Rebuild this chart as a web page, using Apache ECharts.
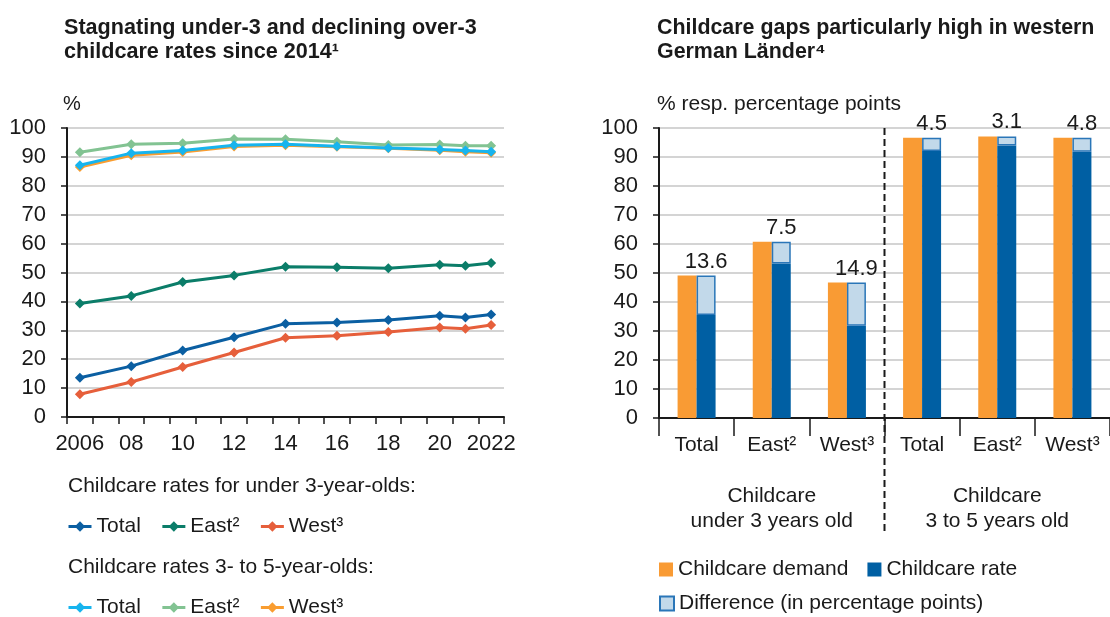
<!DOCTYPE html>
<html>
<head>
<meta charset="utf-8">
<script src="https://cdn.jsdelivr.net/npm/echarts@6/dist/echarts.min.js"></script>
<style>
  html, body { margin: 0; padding: 0; background: #ffffff; }
  #chart { width: 1110px; height: 617px; }
</style>
</head>
<body>
<div id="chart"></div>
<script>
// ---- Left panel: childcare rates over time (in %) ----
const years = ['2006','2007','2008','2009','2010','2011','2012','2013','2014',
               '2015','2016','2017','2018','2019','2020','2021','2022'];
const yearTickLabels = ['2006','','08','','10','','12','','14','','16','','18','','20','','2022'];
const obsYears = ['2006','2008','2010','2012','2014','2016','2018','2020','2021','2022'];

const under3Total = [13.6, 17.6, 23.0, 27.6, 32.3, 32.7, 33.6, 35.0, 34.4, 35.5];
const under3East  = [39.3, 41.9, 46.7, 49.0, 52.0, 51.8, 51.5, 52.7, 52.3, 53.3];
const under3West  = [ 7.9, 12.1, 17.3, 22.3, 27.4, 28.1, 29.4, 31.0, 30.5, 31.8];
const over3Total  = [87.1, 91.3, 92.2, 94.0, 94.4, 93.7, 93.1, 92.6, 92.2, 91.8];
const over3East   = [91.6, 94.4, 94.7, 96.2, 96.1, 95.2, 94.1, 94.3, 93.9, 93.9];
const over3West   = [86.5, 90.6, 91.7, 93.6, 94.0, 93.5, 93.0, 92.3, 91.8, 91.4];

// ---- Right panel: demand vs. rate, 2022 ----
const barCategories = ['Total','East²','West³','Total','East²','West³'];
const demand = [49.1, 60.8, 46.7, 96.6, 97.1, 96.6];
const rate   = [35.5, 53.3, 31.8, 92.1, 94.0, 91.8];
const gap    = [13.6,  7.5, 14.9,  4.5,  3.1,  4.8];
const groupLabels = ['Childcare\nunder 3 years old', 'Childcare\n3 to 5 years old'];

const FONT = '"Liberation Sans", Arial, sans-serif';
const INK = '#1a1a1a';
const GRIDLINE = '#c6c6c6';

const C = {
  u3Total: '#0b5fa2', u3East: '#0b7d69', u3West: '#e65f3b',
  o3Total: '#17b4ee', o3East: '#82c392', o3West: '#f99d31',
  demand: '#f99b34', rate: '#005fa3', gapFill: '#c2d9ea', gapBorder: '#2a76b8'
};

const pairs = arr => obsYears.map((y, i) => [y, arr[i]]);

function lineSeries(name, data, color, z) {
  return {
    name, type: 'line', xAxisIndex: 0, yAxisIndex: 0, z,
    data: pairs(data),
    symbol: 'diamond', symbolSize: 10,
    lineStyle: { width: 3, color },
    itemStyle: { color },
    emphasis: { disabled: true },
    animation: false
  };
}

const valueAxis = (gridIndex, margin) => ({
  type: 'value', gridIndex, min: 0, max: 100, interval: 10,
  axisLine: { show: true, lineStyle: { color: INK, width: 2 } },
  axisTick: { show: true, length: 6, lineStyle: { color: INK, width: 1.5 } },
  axisLabel: { color: INK, fontSize: 22, fontFamily: FONT, margin },
  splitLine: { show: true, lineStyle: { color: GRIDLINE, width: 1.5 } }
});

const legendBase = {
  orient: 'horizontal', padding: 0, itemGap: 20, itemWidth: 23, itemHeight: 13,
  textStyle: { color: INK, fontSize: 21, fontFamily: FONT },
  lineStyle: { width: 3 },
  selectedMode: false
};

const titleStyle = { fontSize: 21.6, fontWeight: 'bold', color: INK, lineHeight: 24, fontFamily: FONT };

const option = {
  backgroundColor: '#ffffff',
  animation: false,
  textStyle: { fontFamily: FONT },
  title: [
    {
      text: 'Stagnating under-3 and declining over-3\nchildcare rates since 2014¹',
      left: 64, top: 16, padding: 0, textStyle: titleStyle
    },
    {
      text: 'Childcare gaps particularly high in western\nGerman Länder⁴',
      left: 657, top: 16, padding: 0, textStyle: Object.assign({}, titleStyle, { fontSize: 21.4 })
    }
  ],
  grid: [
    { left: 67, top: 128, width: 437, height: 289 },
    { left: 659, top: 128, width: 451, height: 290 }
  ],
  xAxis: [
    {
      type: 'category', gridIndex: 0, data: years, boundaryGap: true,
      axisLine: { show: true, lineStyle: { color: INK, width: 2 } },
      axisTick: { show: true, interval: 0, length: 7, lineStyle: { color: INK, width: 1.5 } },
      axisLabel: {
        interval: 0, color: INK, fontSize: 22, fontFamily: FONT, margin: 16,
        formatter: (v, i) => yearTickLabels[i]
      },
      splitLine: { show: false }
    },
    {
      type: 'category', gridIndex: 1, data: barCategories, boundaryGap: true,
      axisLine: { show: true, lineStyle: { color: INK, width: 2 } },
      axisTick: { show: true, interval: 0, length: 18, lineStyle: { color: INK, width: 1.5 } },
      axisLabel: { interval: 0, color: INK, fontSize: 21, fontFamily: FONT, margin: 17 },
      splitLine: { show: false }
    }
  ],
  yAxis: [ valueAxis(0, 21), valueAxis(1, 21) ],
  legend: [
    Object.assign({}, legendBase, {
      left: 67, top: 516,
      data: ['u3|Total', 'u3|East²', 'u3|West³'],
      formatter: n => n.split('|')[1]
    }),
    Object.assign({}, legendBase, {
      left: 67, top: 597,
      data: ['o3|Total', 'o3|East²', 'o3|West³'],
      formatter: n => n.split('|')[1]
    }),
    Object.assign({}, legendBase, {
      left: 659, top: 559, icon: 'rect', itemWidth: 14, itemHeight: 14, itemGap: 19,
      data: ['Childcare demand', 'Childcare rate']
    }),
    Object.assign({}, legendBase, {
      left: 659, top: 593, icon: 'rect', itemWidth: 14, itemHeight: 14,
      data: ['Difference (in percentage points)']
    })
  ],
  series: [
    lineSeries('o3|West³',  over3West,  C.o3West, 2),
    lineSeries('o3|East²',  over3East,  C.o3East, 3),
    lineSeries('o3|Total',  over3Total, C.o3Total, 4),
    lineSeries('u3|West³',  under3West, C.u3West, 5),
    lineSeries('u3|East²',  under3East, C.u3East, 5),
    lineSeries('u3|Total',  under3Total, C.u3Total, 5),
    {
      name: 'Childcare demand', type: 'bar', xAxisIndex: 1, yAxisIndex: 1,
      data: demand, barWidth: 19, barGap: '0%',
      itemStyle: { color: C.demand }
    },
    {
      name: 'Childcare rate', type: 'bar', xAxisIndex: 1, yAxisIndex: 1,
      stack: 'rate', data: rate, barWidth: 19,
      itemStyle: { color: C.rate }
    },
    {
      name: 'Difference (in percentage points)', type: 'bar', xAxisIndex: 1, yAxisIndex: 1,
      stack: 'rate', data: gap, barWidth: 19,
      itemStyle: { color: C.gapFill, borderColor: C.gapBorder, borderWidth: 1.5 },
      label: {
        show: true, position: 'top', distance: 3,
        color: INK, fontSize: 22, fontFamily: FONT,
        formatter: p => p.value.toFixed(1)
      }
    }
  ],
  graphic: [
    { type: 'text', id: 'unitL', style: { text: '%', x: 63, y: 104, verticalAlign: 'middle',
      font: '20px ' + FONT, fill: INK } },
    { type: 'text', id: 'unitR', style: { text: '% resp. percentage points', x: 657, y: 104,
      verticalAlign: 'middle', font: '21px ' + FONT, fill: INK } },
    { type: 'text', id: 'headU3', style: { text: 'Childcare rates for under 3-year-olds:', x: 68, y: 486,
      verticalAlign: 'middle', font: '21px ' + FONT, fill: INK } },
    { type: 'text', id: 'headO3', style: { text: 'Childcare rates 3- to 5-year-olds:', x: 68, y: 567,
      verticalAlign: 'middle', font: '21px ' + FONT, fill: INK } }
  ]
};

const chart = echarts.init(document.getElementById('chart'), null, { renderer: 'canvas' });
chart.setOption(option);

// Separator between the two age groups and the group captions below the axis
const cx = i => chart.convertToPixel({ xAxisIndex: 1 }, i);
const sepX = (cx(2) + cx(3)) / 2;
const yTop = chart.convertToPixel({ yAxisIndex: 1 }, 100);
chart.setOption({
  graphic: [
    { type: 'line', id: 'sep', z: 10,
      shape: { x1: sepX, y1: yTop, x2: sepX, y2: 531 },
      style: { stroke: INK, lineWidth: 2, lineDash: [7, 4] } },
    { type: 'text', id: 'grp1', style: { text: groupLabels[0], x: cx(1), y: 509,
      align: 'center', verticalAlign: 'middle', lineHeight: 25, font: '21px ' + FONT, fill: INK } },
    { type: 'text', id: 'grp2', style: { text: groupLabels[1], x: cx(4), y: 509,
      align: 'center', verticalAlign: 'middle', lineHeight: 25, font: '21px ' + FONT, fill: INK } }
  ]
});
</script>
</body>
</html>
